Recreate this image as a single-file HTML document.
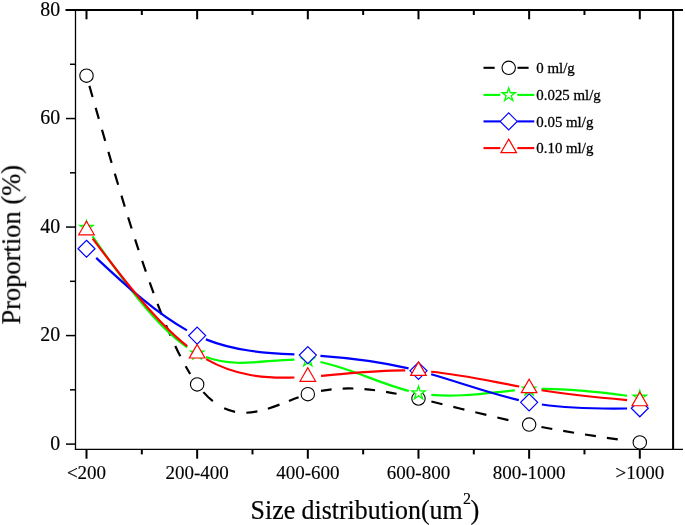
<!DOCTYPE html>
<html><head><meta charset="utf-8"><style>
html,body{margin:0;padding:0;background:#fff;}
body{width:685px;height:525px;overflow:hidden;font-family:"Liberation Serif",serif;}
svg{display:block;}
</style></head><body>
<svg width="685" height="525" viewBox="0 0 685 525">
<rect width="685" height="525" fill="#fff"/>
<g stroke="#000" fill="none">
<line x1="75.5" y1="9.0" x2="75.5" y2="450.0" stroke-width="1.3"/>
<line x1="673.1" y1="9.0" x2="673.1" y2="450.0" stroke-width="2"/>
<line x1="65.5" y1="10.0" x2="683" y2="10.0" stroke-width="2"/>
<line x1="74.9" y1="449.4" x2="683" y2="449.4" stroke-width="1.4"/>
<line x1="66" y1="444.10" x2="75.5" y2="444.10" stroke-width="1.5"/>
<line x1="70" y1="389.84" x2="75.5" y2="389.84" stroke-width="1.5"/>
<line x1="66" y1="335.58" x2="75.5" y2="335.58" stroke-width="1.5"/>
<line x1="70" y1="281.32" x2="75.5" y2="281.32" stroke-width="1.5"/>
<line x1="66" y1="227.06" x2="75.5" y2="227.06" stroke-width="1.5"/>
<line x1="70" y1="172.80" x2="75.5" y2="172.80" stroke-width="1.5"/>
<line x1="66" y1="118.54" x2="75.5" y2="118.54" stroke-width="1.5"/>
<line x1="70" y1="64.28" x2="75.5" y2="64.28" stroke-width="1.5"/>
<line x1="66" y1="10.02" x2="75.5" y2="10.02" stroke-width="1.5"/>
<line x1="86.50" y1="449.4" x2="86.50" y2="458.70" stroke-width="2"/>
<line x1="86.50" y1="10.0" x2="86.50" y2="19.30" stroke-width="2"/>
<line x1="197.16" y1="449.4" x2="197.16" y2="458.70" stroke-width="2"/>
<line x1="197.16" y1="10.0" x2="197.16" y2="19.30" stroke-width="2"/>
<line x1="307.82" y1="449.4" x2="307.82" y2="458.70" stroke-width="2"/>
<line x1="307.82" y1="10.0" x2="307.82" y2="19.30" stroke-width="2"/>
<line x1="418.48" y1="449.4" x2="418.48" y2="458.70" stroke-width="2"/>
<line x1="418.48" y1="10.0" x2="418.48" y2="19.30" stroke-width="2"/>
<line x1="529.14" y1="449.4" x2="529.14" y2="458.70" stroke-width="2"/>
<line x1="529.14" y1="10.0" x2="529.14" y2="19.30" stroke-width="2"/>
<line x1="639.80" y1="449.4" x2="639.80" y2="458.70" stroke-width="2"/>
<line x1="639.80" y1="10.0" x2="639.80" y2="19.30" stroke-width="2"/>
<line x1="141.83" y1="449.4" x2="141.83" y2="454.40" stroke-width="2"/>
<line x1="141.83" y1="10.0" x2="141.83" y2="15.00" stroke-width="2"/>
<line x1="252.49" y1="449.4" x2="252.49" y2="454.40" stroke-width="2"/>
<line x1="252.49" y1="10.0" x2="252.49" y2="15.00" stroke-width="2"/>
<line x1="363.15" y1="449.4" x2="363.15" y2="454.40" stroke-width="2"/>
<line x1="363.15" y1="10.0" x2="363.15" y2="15.00" stroke-width="2"/>
<line x1="473.81" y1="449.4" x2="473.81" y2="454.40" stroke-width="2"/>
<line x1="473.81" y1="10.0" x2="473.81" y2="15.00" stroke-width="2"/>
<line x1="584.47" y1="449.4" x2="584.47" y2="454.40" stroke-width="2"/>
<line x1="584.47" y1="10.0" x2="584.47" y2="15.00" stroke-width="2"/>
</g>
<path d="M89.40,85.84 C123.00,203.59 156.59,319.61 190.19,374.03" fill="none" stroke="#000" stroke-width="2.2" stroke-dasharray="11.5 11.34"/>
<path d="M203.39,392.14 C235.13,427.81 266.88,408.84 298.62,397.27" fill="none" stroke="#000" stroke-width="2.2" stroke-dasharray="13 13.5 11.5 11.3 11.2 10.8 12.3 10.1 10.6 60"/>
<path d="M321.02,390.95 C349.44,385.53 377.86,389.67 406.28,395.79" fill="none" stroke="#000" stroke-width="2.2" stroke-dasharray="10.7 11.1"/>
<path d="M431.38,401.54 C459.89,408.33 488.40,415.74 516.91,421.97" fill="none" stroke="#000" stroke-width="2.2" stroke-dasharray="11.4 11.2"/>
<path d="M541.44,427.01 C570.10,432.50 598.76,436.70 627.42,440.74" fill="none" stroke="#000" stroke-width="2.2" stroke-dasharray="11 11.1"/>
<circle cx="86.50" cy="75.67" r="6.7" fill="#fff" stroke="#000" stroke-width="1.1"/>
<circle cx="197.16" cy="384.41" r="6.7" fill="#fff" stroke="#000" stroke-width="1.1"/>
<circle cx="307.82" cy="394.18" r="6.7" fill="#fff" stroke="#000" stroke-width="1.1"/>
<circle cx="418.48" cy="398.52" r="6.7" fill="#fff" stroke="#000" stroke-width="1.1"/>
<circle cx="529.14" cy="424.57" r="6.7" fill="#fff" stroke="#000" stroke-width="1.1"/>
<circle cx="639.80" cy="442.47" r="6.7" fill="#fff" stroke="#000" stroke-width="1.1"/>
<path d="M92.50,236.28 C124.05,281.83 155.61,326.01 187.16,347.27" fill="none" stroke="#00ff00" stroke-width="2.2"/>
<path d="M205.86,357.06 C235.38,368.12 264.90,359.82 294.42,359.57" fill="none" stroke="#00ff00" stroke-width="2.2"/>
<path d="M320.42,362.00 C349.91,367.92 379.39,383.50 408.88,390.97" fill="none" stroke="#00ff00" stroke-width="2.2"/>
<path d="M431.38,394.90 C459.20,397.57 487.02,392.82 514.84,390.33" fill="none" stroke="#00ff00" stroke-width="2.2"/>
<path d="M541.54,388.91 C570.06,388.58 598.58,391.91 627.10,395.72" fill="none" stroke="#00ff00" stroke-width="2.2"/>
<polygon points="86.50,220.60 88.07,225.44 93.16,225.44 89.04,228.43 90.61,233.27 86.50,230.28 82.39,233.27 83.96,228.43 79.84,225.44 84.93,225.44" fill="#fff" stroke="#00ff00" stroke-width="1.3" stroke-linejoin="miter"/>
<polygon points="197.16,346.21 198.73,351.05 203.82,351.05 199.70,354.04 201.27,358.88 197.16,355.89 193.05,358.88 194.62,354.04 190.50,351.05 195.59,351.05" fill="#fff" stroke="#00ff00" stroke-width="1.3" stroke-linejoin="miter"/>
<polygon points="307.82,353.11 309.39,357.94 314.48,357.94 310.36,360.93 311.93,365.77 307.82,362.78 303.71,365.77 305.28,360.93 301.16,357.94 306.25,357.94" fill="#fff" stroke="#00ff00" stroke-width="1.3" stroke-linejoin="miter"/>
<polygon points="418.48,386.10 420.05,390.93 425.14,390.93 421.02,393.92 422.59,398.76 418.48,395.77 414.37,398.76 415.94,393.92 411.82,390.93 416.91,390.93" fill="#fff" stroke="#00ff00" stroke-width="1.3" stroke-linejoin="miter"/>
<polygon points="529.14,382.30 530.71,387.13 535.80,387.13 531.68,390.12 533.25,394.96 529.14,391.97 525.03,394.96 526.60,390.12 522.48,387.13 527.57,387.13" fill="#fff" stroke="#00ff00" stroke-width="1.3" stroke-linejoin="miter"/>
<polygon points="639.80,390.44 641.37,395.27 646.46,395.27 642.34,398.26 643.91,403.10 639.80,400.11 635.69,403.10 637.26,398.26 633.14,395.27 638.23,395.27" fill="#fff" stroke="#00ff00" stroke-width="1.3" stroke-linejoin="miter"/>
<path d="M96.20,257.88 C126.45,286.25 156.71,313.59 186.96,330.34" fill="none" stroke="#0000ff" stroke-width="2.2"/>
<path d="M205.86,339.37 C235.38,351.20 264.90,352.90 294.42,354.41" fill="none" stroke="#0000ff" stroke-width="2.2"/>
<path d="M320.42,355.91 C349.81,357.99 379.19,361.60 408.58,368.43" fill="none" stroke="#0000ff" stroke-width="2.2"/>
<path d="M431.18,374.31 C460.40,382.67 489.62,393.44 518.84,400.14" fill="none" stroke="#0000ff" stroke-width="2.2"/>
<path d="M541.84,404.48 C570.26,408.69 598.68,408.85 627.10,408.48" fill="none" stroke="#0000ff" stroke-width="2.2"/>
<polygon points="86.50,240.26 95.00,248.76 86.50,257.26 78.00,248.76" fill="#fff" stroke="#0000ff" stroke-width="1.2"/>
<polygon points="197.16,327.08 205.66,335.58 197.16,344.08 188.66,335.58" fill="#fff" stroke="#0000ff" stroke-width="1.2"/>
<polygon points="307.82,346.61 316.32,355.11 307.82,363.61 299.32,355.11" fill="#fff" stroke="#0000ff" stroke-width="1.2"/>
<polygon points="418.48,362.35 426.98,370.85 418.48,379.35 409.98,370.85" fill="#fff" stroke="#0000ff" stroke-width="1.2"/>
<polygon points="529.14,393.82 537.64,402.32 529.14,410.82 520.64,402.32" fill="#fff" stroke="#0000ff" stroke-width="1.2"/>
<polygon points="639.80,399.79 648.30,408.29 639.80,416.79 631.30,408.29" fill="#fff" stroke="#0000ff" stroke-width="1.2"/>
<path d="M92.70,238.57 C124.19,280.43 155.67,321.30 187.16,346.15" fill="none" stroke="#ff0000" stroke-width="2.2"/>
<path d="M206.16,359.10 C235.58,375.96 265.00,378.53 294.42,377.50" fill="none" stroke="#ff0000" stroke-width="2.2"/>
<path d="M321.02,375.86 C349.11,373.61 377.19,370.28 405.28,370.48" fill="none" stroke="#ff0000" stroke-width="2.2"/>
<path d="M431.18,371.77 C460.53,374.49 489.89,381.11 519.24,386.46" fill="none" stroke="#ff0000" stroke-width="2.2"/>
<path d="M541.54,390.22 C570.06,394.60 598.58,397.44 627.10,400.07" fill="none" stroke="#ff0000" stroke-width="2.2"/>
<polygon points="86.50,221.31 94.30,234.82 78.70,234.82" fill="#fff" stroke="#ff0000" stroke-width="1.2"/>
<polygon points="197.16,344.48 204.96,357.99 189.36,357.99" fill="#fff" stroke="#ff0000" stroke-width="1.2"/>
<polygon points="307.82,367.81 315.62,381.32 300.02,381.32" fill="#fff" stroke="#ff0000" stroke-width="1.2"/>
<polygon points="418.48,361.84 426.28,375.35 410.68,375.35" fill="#fff" stroke="#ff0000" stroke-width="1.2"/>
<polygon points="529.14,379.21 536.94,392.72 521.34,392.72" fill="#fff" stroke="#ff0000" stroke-width="1.2"/>
<polygon points="639.80,392.23 647.60,405.74 632.00,405.74" fill="#fff" stroke="#ff0000" stroke-width="1.2"/>
<line x1="483.5" y1="67.8" x2="494.7" y2="67.8" stroke="#000" stroke-width="2.1"/>
<line x1="517.5" y1="67.8" x2="528.6" y2="67.8" stroke="#000" stroke-width="2.1"/>
<circle cx="508.70" cy="67.80" r="6.7" fill="#fff" stroke="#000" stroke-width="1.1"/>
<line x1="483.5" y1="94.9" x2="500.3" y2="94.9" stroke="#00ff00" stroke-width="2.1"/>
<line x1="517.3" y1="94.9" x2="534.3" y2="94.9" stroke="#00ff00" stroke-width="2.1"/>
<polygon points="508.70,87.90 510.27,92.74 515.36,92.74 511.24,95.73 512.81,100.56 508.70,97.57 504.59,100.56 506.16,95.73 502.04,92.74 507.13,92.74" fill="#fff" stroke="#00ff00" stroke-width="1.3" stroke-linejoin="miter"/>
<line x1="483.5" y1="121.4" x2="500.3" y2="121.4" stroke="#0000ff" stroke-width="2.1"/>
<line x1="517.3" y1="121.4" x2="534.3" y2="121.4" stroke="#0000ff" stroke-width="2.1"/>
<polygon points="508.70,112.90 517.20,121.40 508.70,129.90 500.20,121.40" fill="#fff" stroke="#0000ff" stroke-width="1.2"/>
<line x1="483.5" y1="148.1" x2="500.3" y2="148.1" stroke="#ff0000" stroke-width="2.1"/>
<line x1="517.3" y1="148.1" x2="534.3" y2="148.1" stroke="#ff0000" stroke-width="2.1"/>
<polygon points="508.70,139.09 516.50,152.60 500.90,152.60" fill="#fff" stroke="#ff0000" stroke-width="1.2"/>
<g font-family="Liberation Serif" fill="#000" style="will-change:transform">
<text transform="translate(60.1,449.90) scale(0.92,1)" font-size="21.6" text-anchor="end" stroke="#000" stroke-width="0.2">0</text>
<text transform="translate(60.1,341.38) scale(0.92,1)" font-size="21.6" text-anchor="end" stroke="#000" stroke-width="0.2">20</text>
<text transform="translate(60.1,232.86) scale(0.92,1)" font-size="21.6" text-anchor="end" stroke="#000" stroke-width="0.2">40</text>
<text transform="translate(60.1,124.34) scale(0.92,1)" font-size="21.6" text-anchor="end" stroke="#000" stroke-width="0.2">60</text>
<text transform="translate(60.1,15.82) scale(0.92,1)" font-size="21.6" text-anchor="end" stroke="#000" stroke-width="0.2">80</text>
<text transform="translate(86.50,479.4) scale(0.97,1)" font-size="19.6" text-anchor="middle" stroke="#000" stroke-width="0.15">&lt;200</text>
<text transform="translate(197.16,479.4) scale(0.97,1)" font-size="19.6" text-anchor="middle" stroke="#000" stroke-width="0.15">200-400</text>
<text transform="translate(307.82,479.4) scale(0.97,1)" font-size="19.6" text-anchor="middle" stroke="#000" stroke-width="0.15">400-600</text>
<text transform="translate(418.48,479.4) scale(0.97,1)" font-size="19.6" text-anchor="middle" stroke="#000" stroke-width="0.15">600-800</text>
<text transform="translate(529.14,479.4) scale(0.97,1)" font-size="19.6" text-anchor="middle" stroke="#000" stroke-width="0.15">800-1000</text>
<text transform="translate(639.80,479.4) scale(0.97,1)" font-size="19.6" text-anchor="middle" stroke="#000" stroke-width="0.15">&gt;1000</text>
<text x="250.6" y="518.5" font-size="26.5" stroke="#000" stroke-width="0.2" textLength="212" lengthAdjust="spacingAndGlyphs">Size distribution(um</text>
<text x="463.1" y="503.9" font-size="16" stroke="#000" stroke-width="0.15">2</text>
<text x="470.6" y="518.5" font-size="26.5" stroke="#000" stroke-width="0.2">)</text>
<text transform="translate(20.2,244.8) rotate(-90)" font-size="26.5" stroke="#000" stroke-width="0.2" text-anchor="middle">Proportion (%)</text>
<text transform="translate(536.3,73.00) scale(0.96,1)" font-size="15.5" stroke="#000" stroke-width="0.3">0 ml/g</text>
<text transform="translate(536.3,100.10) scale(0.96,1)" font-size="15.5" stroke="#000" stroke-width="0.3">0.025 ml/g</text>
<text transform="translate(536.3,126.60) scale(0.96,1)" font-size="15.5" stroke="#000" stroke-width="0.3">0.05 ml/g</text>
<text transform="translate(536.3,153.30) scale(0.96,1)" font-size="15.5" stroke="#000" stroke-width="0.3">0.10 ml/g</text>
</g>
</svg>
</body></html>
